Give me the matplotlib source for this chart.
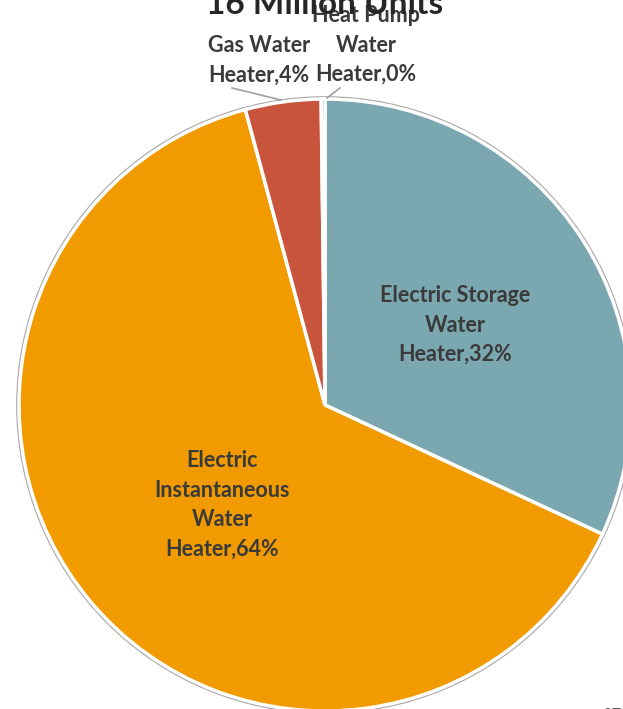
import matplotlib
matplotlib.use("Agg")
import matplotlib.pyplot as plt
from matplotlib.patches import Circle

categories = ["Electric Storage\nWater\nHeater", "Electric\nInstantaneous\nWater\nHeater",
              "Gas Water\nHeater", "Heat Pump\nWater\nHeater"]
values = [32, 64, 4, 0.2]
pct_labels = ["32%", "64%", "4%", "0%"]
colors = ["#7BA7B0", "#F29B00", "#C8553B", "#5B8FA0"]
title = "16 Million Units"

W, H = 623, 709
fig = plt.figure(figsize=(W / 100, H / 100), dpi=100)
ax = fig.add_axes([0, 0, 1, 1])

cx, cy, r = 325, H - 405, 306
ax.add_patch(Circle((cx, cy), r + 2, facecolor="none", edgecolor="#A8A8A8", lw=1.2, zorder=0))
wedges, _ = ax.pie(values, colors=colors, startangle=90, counterclock=False,
                   center=(cx, cy), radius=r,
                   wedgeprops=dict(edgecolor="white", linewidth=2.5))
ax.set_xlim(0, W)
ax.set_ylim(0, H)
ax.set_aspect("equal")
ax.axis("off")

fam = ["Lato", "DejaVu Sans"]
tc = "#3A3A3A"
fs = 15.5
ls = 1.5

def label(i, x, y, ha="center"):
    ax.text(x, H - y, f"{categories[i]},{pct_labels[i]}", ha=ha, va="center",
            fontsize=fs, fontweight="bold", color=tc, family=fam, linespacing=ls,
            multialignment=ha)

label(0, 455, 325)
label(1, 222, 505)
label(2, 208, 60, ha="left")
label(3, 366, 45)

ax.plot([232, 281], [H - 88, H - 100], color="#A0A0A0", lw=1.2)
ax.plot([340, 327], [H - 88, H - 98], color="#A0A0A0", lw=1.2)

ax.text(325, H - 5, title, ha="center", va="center", fontsize=24, fontweight="bold",
        color="#262626", family=fam)
ax.text(612, H - 716, "07", ha="center", va="center", fontsize=12, color="#595959", family=fam)

fig.savefig("out.png", dpi=100)
